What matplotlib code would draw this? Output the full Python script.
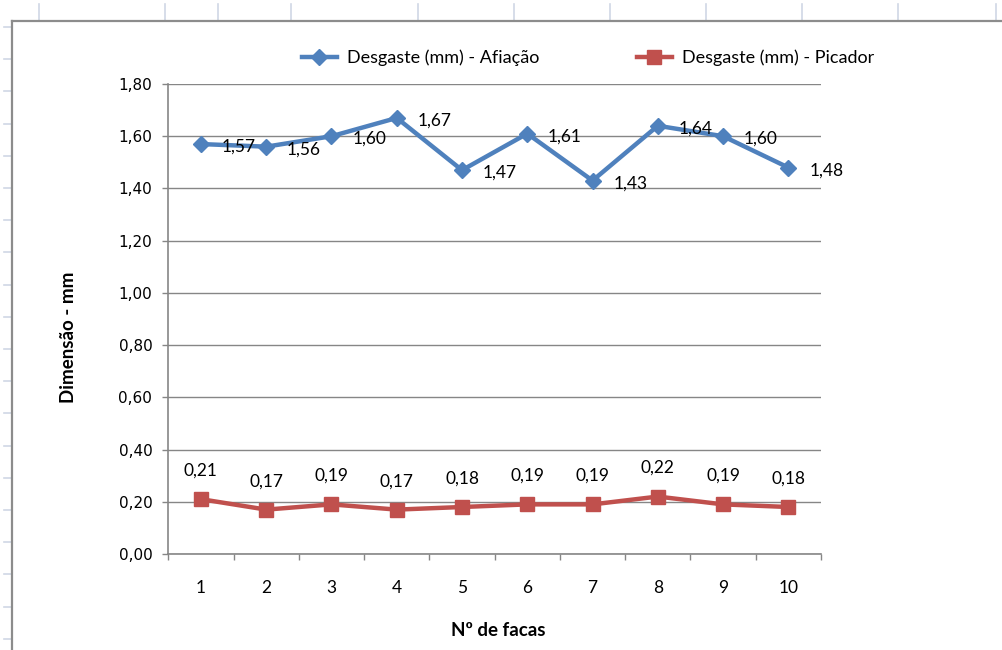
import numpy as np
import matplotlib
matplotlib.use("Agg")
from matplotlib import pyplot as plt
from matplotlib.lines import Line2D

# wear measured on each knife (mm)
facas = [1, 2, 3, 4, 5, 6, 7, 8, 9, 10]
desgaste_afiacao = [1.57, 1.56, 1.60, 1.67, 1.47, 1.61, 1.43, 1.64, 1.60, 1.48]
desgaste_picador = [0.21, 0.17, 0.19, 0.17, 0.18, 0.19, 0.19, 0.22, 0.19, 0.18]
serie_nomes = ["Desgaste (mm) - Afiação", "Desgaste (mm) - Picador"]
y_ticks = [0.0, 0.2, 0.4, 0.6, 0.8, 1.0, 1.2, 1.4, 1.6, 1.8]

AZUL = "#4F81BD"
VERMELHO = "#C0504D"
CINZA = "#868686"
PLANILHA = "#D0D7E5"
FONTE = "Lato"

W, H = 1003, 650
fig = plt.figure(figsize=(W / 100, H / 100), dpi=100)


def fx(px):
    return px / W


def fy(py):
    return 1 - py / H


# spreadsheet cell lines behind the chart object
for x in [39, 165, 218, 291, 418, 514, 610, 706, 802, 898, 996]:
    fig.add_artist(Line2D([fx(x), fx(x)], [fy(4), fy(20)], color=PLANILHA, lw=1.2))
for k in range(20):
    y = 27 + 32.2 * k
    fig.add_artist(Line2D([fx(4), fx(11)], [fy(y), fy(y)], color=PLANILHA, lw=1.2))

# chart frame (top and left edges visible)
fig.add_artist(Line2D([fx(12), fx(W)], [fy(21), fy(21)], color="#8C8C8C", lw=1.6))
fig.add_artist(Line2D([fx(12), fx(12)], [fy(21), fy(H)], color="#8C8C8C", lw=1.6))

ax = fig.add_axes([fx(168.3), fy(554), fx(821) - fx(168.3), (554 - 84) / H])

ax.plot(facas, desgaste_afiacao, color=AZUL, lw=3.2, marker="D", markersize=8,
        label=serie_nomes[0], zorder=3)
ax.plot(facas, desgaste_picador, color=VERMELHO, lw=3.2, marker="s", markersize=10.5,
        label=serie_nomes[1], zorder=3)


def rotulo(v):
    return f"{v:.2f}".replace(".", ",")


for x, v in zip(facas, desgaste_afiacao):
    ax.annotate(rotulo(v), (x, v), xytext=(15, -2), textcoords="offset points",
                ha="left", va="center", fontsize=12.5, family=FONTE, zorder=4)
for x, v in zip(facas, desgaste_picador):
    ax.annotate(rotulo(v), (x, v), xytext=(0, 20.5), textcoords="offset points",
                ha="center", va="center", fontsize=12.5, family=FONTE, zorder=4)

ax.set_xlim(0.5, 10.5)
ax.set_ylim(0, 1.8)
ax.set_yticks(y_ticks)
ax.set_yticklabels([rotulo(v) for v in y_ticks], fontsize=11, family="DejaVu Sans")
ax.set_xticks(facas)
ax.set_xticklabels([str(f) for f in facas], fontsize=12.5, family=FONTE)
ax.set_xticks(np.arange(0.5, 11, 1), minor=True)
ax.tick_params(axis="x", which="major", length=0, pad=18.5)
ax.tick_params(axis="x", which="minor", length=4.5, width=1, color=CINZA)
ax.tick_params(axis="y", length=4.5, width=1, color=CINZA, pad=7)

ax.grid(axis="y", color=CINZA, lw=1.0)
ax.set_axisbelow(True)
for lado in ["top", "right"]:
    ax.spines[lado].set_visible(False)
for lado in ["left", "bottom"]:
    ax.spines[lado].set_color(CINZA)
    ax.spines[lado].set_linewidth(1.2)

fig.text(fx(69), fy(337), "Dimensão - mm", rotation=90, ha="center", va="center",
         fontsize=13.5, fontweight="bold", family=FONTE)
fig.text(fx(498), fy(630), "Nº de facas", ha="center", va="center",
         fontsize=13.5, fontweight="bold", family=FONTE)

fig.legend(loc="center", bbox_to_anchor=(fx(588), fy(58)), ncol=2, frameon=False,
           prop={"family": FONTE, "size": 13}, handlelength=1.95,
           handletextpad=0.55, columnspacing=5.4)

fig.savefig("out.png", dpi=100)
